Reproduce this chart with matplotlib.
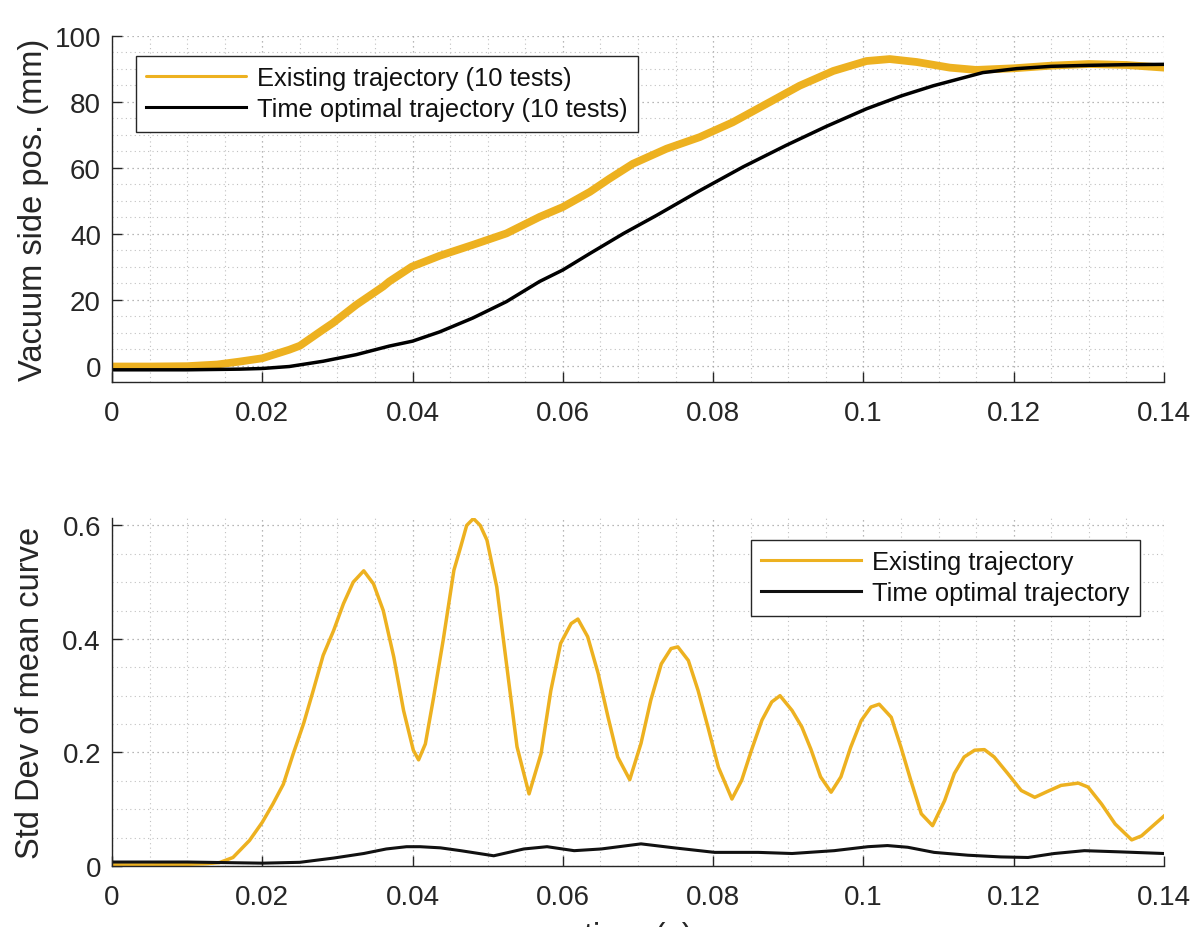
import matplotlib
matplotlib.use("Agg")
import matplotlib.pyplot as plt
from matplotlib.ticker import MultipleLocator

plt.rcParams['font.family'] = ['Liberation Sans', 'DejaVu Sans']

# ---------------- data ----------------
# Top panel: vacuum side position (mm)
t_exist_pos = [0, 0.005, 0.010, 0.014, 0.017, 0.020, 0.0236, 0.025, 0.0281, 0.0294,
               0.0325, 0.0361, 0.0369, 0.0399, 0.0436, 0.048, 0.0525, 0.0569, 0.060,
               0.0636, 0.0662, 0.0693, 0.0738, 0.0782, 0.0826, 0.0871, 0.0915, 0.096,
               0.1004, 0.1035, 0.1071, 0.1115, 0.115, 0.120, 0.125, 0.130, 0.135, 0.140]
y_exist_pos = [-0.3, -0.3, -0.2, 0.3, 1.2, 2.2, 4.8, 6.0, 10.9, 12.9,
               18.4, 24.0, 25.5, 30.0, 33.3, 36.6, 40.1, 45.1, 48.1,
               52.7, 56.7, 61.2, 65.8, 69.3, 73.8, 79.4, 84.9, 89.4,
               92.4, 93.0, 92.1, 90.4, 89.7, 90.2, 91.0, 91.5, 91.2, 90.4]

t_opt_pos = [0, 0.010, 0.017, 0.020, 0.0236, 0.0281, 0.0325, 0.0369, 0.040, 0.0436,
             0.048, 0.0525, 0.0569, 0.060, 0.0636, 0.0681, 0.0725, 0.078, 0.084,
             0.0897, 0.095, 0.1004, 0.105, 0.1093, 0.1159, 0.1204, 0.125, 0.130,
             0.135, 0.140]
y_opt_pos = [-1.3, -1.3, -1.1, -0.9, -0.3, 1.3, 3.3, 5.9, 7.4, 10.2,
             14.4, 19.4, 25.5, 29.0, 34.0, 40.1, 45.6, 52.8, 60.3,
             66.8, 72.5, 77.9, 81.8, 84.9, 88.9, 90.1, 90.8, 91.1,
             91.3, 91.4]

# Bottom panel: standard deviation of mean curve
t_exist_std = [0, 0.005, 0.010, 0.0125, 0.0143, 0.0161, 0.0183, 0.020, 0.0214, 0.0228,
               0.0241, 0.0255, 0.0268, 0.0281, 0.0295, 0.0308, 0.0321, 0.0335, 0.0348,
               0.0361, 0.0375, 0.0388, 0.0401, 0.0408, 0.0417, 0.0428, 0.0441, 0.0455,
               0.0464, 0.0472, 0.0481, 0.0490, 0.0499, 0.0512, 0.0525, 0.0539, 0.0555,
               0.0571, 0.0584, 0.0597, 0.0611, 0.0620, 0.0633, 0.0647, 0.0660, 0.0673,
               0.0689, 0.0704, 0.0717, 0.0731, 0.0744, 0.0753, 0.0767, 0.0780, 0.0793,
               0.0807, 0.0825, 0.0838, 0.0851, 0.0865, 0.0878, 0.0889, 0.0905, 0.0918,
               0.0930, 0.0943, 0.0957, 0.0970, 0.0983, 0.0997, 0.1010, 0.1021, 0.1037,
               0.1050, 0.1063, 0.1077, 0.1092, 0.1108, 0.1121, 0.1134, 0.1148, 0.1161,
               0.1174, 0.1192, 0.1210, 0.1228, 0.1246, 0.1263, 0.1286, 0.1299, 0.1317,
               0.1335, 0.1357, 0.1370, 0.1388, 0.1400]
y_exist_std = [0.002, 0.002, 0.003, 0.004, 0.006, 0.015, 0.045, 0.077, 0.109, 0.144,
               0.197, 0.251, 0.310, 0.371, 0.415, 0.462, 0.500, 0.520, 0.497,
               0.450, 0.368, 0.274, 0.204, 0.187, 0.215, 0.297, 0.400, 0.521,
               0.562, 0.600, 0.612, 0.600, 0.574, 0.492, 0.356, 0.210, 0.127,
               0.198, 0.309, 0.392, 0.427, 0.435, 0.404, 0.339, 0.263, 0.192,
               0.152, 0.216, 0.292, 0.356, 0.383, 0.386, 0.362, 0.309, 0.245,
               0.174, 0.118, 0.151, 0.204, 0.257, 0.289, 0.300, 0.274, 0.245,
               0.206, 0.157, 0.130, 0.157, 0.209, 0.256, 0.280, 0.285, 0.262,
               0.209, 0.151, 0.092, 0.071, 0.115, 0.163, 0.192, 0.204, 0.205,
               0.192, 0.163, 0.133, 0.121, 0.132, 0.142, 0.146, 0.139, 0.109,
               0.074, 0.046, 0.053, 0.074, 0.088]

t_opt_std = [0, 0.010, 0.015, 0.020, 0.025, 0.0295, 0.0335, 0.0365, 0.0392, 0.041,
             0.0437, 0.0464, 0.0508, 0.0548, 0.0579, 0.0615, 0.0651, 0.0704, 0.0748,
             0.0802, 0.0860, 0.0905, 0.0961, 0.1006, 0.1032, 0.1059, 0.1094, 0.1139,
             0.1183, 0.1219, 0.1254, 0.1294, 0.1339, 0.1400]
y_opt_std = [0.007, 0.007, 0.006, 0.005, 0.0065, 0.014, 0.022, 0.030, 0.034, 0.034,
             0.032, 0.027, 0.018, 0.030, 0.034, 0.027, 0.030, 0.039, 0.032,
             0.024, 0.024, 0.022, 0.027, 0.034, 0.036, 0.033, 0.024, 0.019,
             0.016, 0.015, 0.022, 0.027, 0.025, 0.022]

x_ticks = [0, 0.02, 0.04, 0.06, 0.08, 0.1, 0.12, 0.14]
x_ticklabels = ['0', '0.02', '0.04', '0.06', '0.08', '0.1', '0.12', '0.14']
top_yticks = [0, 20, 40, 60, 80, 100]
bot_yticks = [0, 0.2, 0.4, 0.6]
bot_yticklabels = ['0', '0.2', '0.4', '0.6']

# ---------------- styling ----------------
YEL = '#EDB120'
AXC = '#262626'
W, H = 1202, 928
fig = plt.figure(figsize=(W / 100, H / 100), dpi=100)

def px_axes(l, r, t, b):
    return fig.add_axes([l / W, 1 - b / H, (r - l) / W, (b - t) / H])

ax1 = px_axes(112, 1164, 37, 383)
ax2 = px_axes(112, 1164, 519, 867)

def style(ax):
    for s in ['top', 'right']:
        ax.spines[s].set_visible(False)
    for s in ['left', 'bottom']:
        ax.spines[s].set_color(AXC)
        ax.spines[s].set_linewidth(1.0)
    ax.tick_params(which='major', direction='in', length=7, width=1.0,
                   colors=AXC, labelsize=20)
    ax.tick_params(axis='x', pad=13)
    ax.tick_params(axis='y', pad=8)
    ax.tick_params(which='minor', length=0)
    ax.grid(True, which='major', linestyle=(0, (1, 3)), color='#a0a0a0', linewidth=0.9)
    ax.grid(True, which='minor', linestyle=(0, (1, 3)), color='#c0c0c0', linewidth=0.8)
    ax.set_axisbelow(True)

# top
ax1.plot(t_exist_pos, y_exist_pos, color=YEL, lw=5.6, solid_capstyle='round',
         solid_joinstyle='round', label='Existing trajectory (10 tests)')
ax1.plot(t_opt_pos, y_opt_pos, color='black', lw=2.5, solid_joinstyle='round',
         label='Time optimal trajectory (10 tests)')
ax1.set_xlim(0, 0.14)
ax1.set_ylim(-5, 100)
ax1.set_xticks(x_ticks)
ax1.set_xticklabels(x_ticklabels)
ax1.set_yticks(top_yticks)
ax1.xaxis.set_minor_locator(MultipleLocator(0.005))
ax1.yaxis.set_minor_locator(MultipleLocator(5))
style(ax1)
ax1.set_ylabel('Vacuum side pos. (mm)', fontsize=23.5, color=AXC, labelpad=4)

# bottom
ax2.plot(t_exist_std, y_exist_std, color=YEL, lw=2.5, solid_joinstyle='round',
         label='Existing trajectory')
ax2.plot(t_opt_std, y_opt_std, color='#111111', lw=2.2, solid_joinstyle='round',
         label='Time optimal trajectory')
ax2.set_xlim(0, 0.14)
ax2.set_ylim(0, 0.613)
ax2.set_xticks(x_ticks)
ax2.set_xticklabels(x_ticklabels)
ax2.set_yticks(bot_yticks)
ax2.set_yticklabels(bot_yticklabels)
ax2.xaxis.set_minor_locator(MultipleLocator(0.005))
ax2.yaxis.set_minor_locator(MultipleLocator(0.05))
style(ax2)
ax2.set_ylabel('Std Dev of mean curve', fontsize=23.5, color=AXC, labelpad=12)
ax2.set_xlabel('time (s)', fontsize=23.5, color=AXC, labelpad=8)

def legend(ax, loc, anchor):
    lg = ax.legend(loc=loc, bbox_to_anchor=anchor, bbox_transform=fig.transFigure,
                   fontsize=18.4, frameon=True, fancybox=False, shadow=False,
                   borderaxespad=0, handlelength=3.9, handletextpad=0.45,
                   labelspacing=0.28, borderpad=0.4, framealpha=1)
    fr = lg.get_frame()
    fr.set_edgecolor(AXC)
    fr.set_linewidth(1.0)
    for line in lg.get_lines():
        line.set_linewidth(2.2)
    for txt in lg.get_texts():
        txt.set_color('#111111')
    return lg

legend(ax1, 'upper left', (136 / W, 1 - 57 / H))
legend(ax2, 'upper right', (1140 / W, 1 - 541 / H))

fig.savefig('out.png', dpi=100)
